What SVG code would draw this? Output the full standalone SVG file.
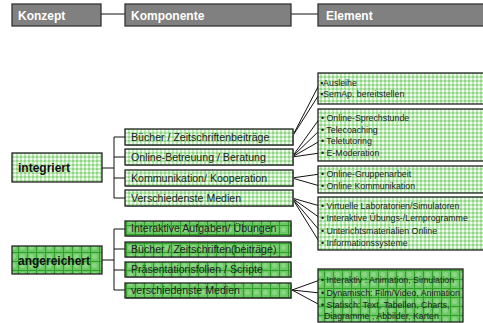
<svg xmlns="http://www.w3.org/2000/svg" width="483" height="323" viewBox="0 0 483 323">
<defs>
<pattern id="lg" width="4" height="4" patternUnits="userSpaceOnUse">
<rect width="4" height="4" fill="#f2fbf0"/>
<rect x="0" y="0" width="2" height="4" fill="#bfeab7"/>
<rect x="0" y="0" width="4" height="2" fill="#bfeab7"/>
<rect x="0" y="0" width="2" height="2" fill="#8fd684"/>
</pattern>
<pattern id="dg" width="9" height="9" patternUnits="userSpaceOnUse">
<rect width="9" height="9" fill="#6cc865"/>
<circle cx="4.5" cy="4.5" r="2.5" fill="#8ad684"/>
<rect x="0" y="0" width="1" height="9" fill="#2f9f2a"/>
<rect x="0" y="0" width="9" height="1" fill="#2f9f2a"/>
</pattern>
</defs>
<style>
.hdr{fill:#808080;stroke:#333;stroke-width:1.3}
.l{fill:url(#lg);stroke:#222;stroke-width:1.3}
.d{fill:url(#dg);stroke:#222;stroke-width:1.3}
.sh{fill:#aaa}
.ht{font-family:"Liberation Sans",Arial,sans-serif;font-size:12px;font-weight:bold;fill:#fff}
.ct{font-family:"Liberation Sans",Arial,sans-serif;font-size:12px;font-weight:bold;fill:#111}
.kt{font-family:"Liberation Sans",Arial,sans-serif;font-size:10.6px;fill:#222}
.et{font-family:"Liberation Sans",Arial,sans-serif;font-size:8.8px;fill:#222}
.c{stroke:#111;stroke-width:1;fill:none}
</style>
<g id="connectors">
<path class="c" d="M101 14H125M291 14H318"/>
<path class="c" d="M102 168H114M114 137V198M114 137H125M114 157H125M114 178H125M114 198H125"/>
<path class="c" d="M102 260H114" stroke-width="2"/>
<path class="c" d="M114 229V290M114 290H125"/>
<path class="c" d="M114 229H125M114 249H125M114 270H125" stroke="#777"/>
<path class="c" d="M292 137L320 83M292 137L320 93"/>
<path class="c" d="M292 157L320 118M292 157L320 130M292 157L320 141M292 157L320 153"/>
<path class="c" d="M292 178L320 174M292 178L320 186"/>
<path class="c" d="M292 198L320 206M292 198L320 218M292 198L320 231M292 198L320 243"/>
<path class="c" d="M292 290L320 280M292 290L320 293M292 290L320 305"/>
</g>
<g id="h-konzept"><rect class="hdr" x="12" y="4" width="89" height="22"/><text class="ht" x="18" y="20">Konzept</text></g>
<g id="h-komponente"><rect class="hdr" x="125" y="4" width="166" height="22"/><text class="ht" x="131" y="20">Komponente</text></g>
<g id="h-element"><rect class="hdr" x="318" y="4" width="170" height="22"/><text class="ht" x="326" y="20">Element</text></g>

<g id="integriert"><rect class="l" x="12" y="153" width="90" height="29"/><text class="ct" x="18" y="172">integriert</text></g>
<g id="angereichert"><rect class="d" x="12" y="246" width="90" height="28"/><text class="ct" x="18" y="265">angereichert</text></g>

<g id="k1"><rect class="sh" x="126" y="130" width="168" height="16"/><rect class="l" x="125" y="129" width="168" height="16"/><text class="kt" x="131" y="141">Bücher / Zeitschriftenbeiträge</text></g>
<g id="k2"><rect class="sh" x="126" y="150" width="168" height="16"/><rect class="l" x="125" y="149" width="168" height="16"/><text class="kt" x="131" y="161">Online-Betreuung / Beratung</text></g>
<g id="k3"><rect class="sh" x="126" y="171" width="168" height="16"/><rect class="l" x="125" y="170" width="168" height="16"/><text class="kt" x="131" y="182">Kommunikation/ Kooperation</text></g>
<g id="k4"><rect class="sh" x="126" y="191" width="168" height="16"/><rect class="l" x="125" y="190" width="168" height="16"/><text class="kt" x="131" y="202">Verschiedenste Medien</text></g>

<g id="k5"><rect class="sh" x="126" y="222" width="166" height="15"/><rect class="d" x="125" y="221" width="166" height="15"/><text class="kt" x="131" y="232">Interaktive Aufgaben/ Übungen</text></g>
<g id="k6"><rect class="sh" x="126" y="243" width="166" height="15"/><rect class="d" x="125" y="242" width="166" height="15"/><text class="kt" x="131" y="253">Bücher / Zeitschriften(beiträge)</text></g>
<g id="k7"><rect class="sh" x="126" y="263" width="166" height="15"/><rect class="d" x="125" y="262" width="166" height="15"/><text class="kt" x="131" y="273">Präsentationsfolien / Scripte</text></g>
<g id="k8"><rect class="sh" x="126" y="284" width="166" height="15"/><rect class="d" x="125" y="283" width="166" height="15"/><text class="kt" x="131" y="294">verschiedenste Medien</text></g>

<g id="e1"><rect class="l" x="318" y="73" width="170" height="31"/>
<text class="et" x="320" y="86">▪Ausleihe</text>
<text class="et" x="320" y="97">▪SemAp. bereitstellen</text></g>
<g id="e2"><rect class="l" x="318" y="109" width="170" height="52"/>
<text class="et" x="321" y="121">• Online-Sprechstunde</text>
<text class="et" x="321" y="133">• Telecoaching</text>
<text class="et" x="321" y="144">• Teletutoring</text>
<text class="et" x="321" y="156">• E-Moderation</text></g>
<g id="e3"><rect class="l" x="318" y="166" width="170" height="27"/>
<text class="et" x="321" y="177">• Online-Gruppenarbeit</text>
<text class="et" x="321" y="189">• Online Kommunikation</text></g>
<g id="e4"><rect class="l" x="318" y="197" width="170" height="53"/>
<text class="et" x="321" y="209">• Virtuelle Laboratorien/Simulatoren</text>
<text class="et" x="321" y="221">• Interaktive  Übungs-/Lernprogramme</text>
<text class="et" x="321" y="234">• Unterichtsmaterialien Online</text>
<text class="et" x="321" y="246">• Informationssysteme</text></g>
<g id="e5"><rect class="d" x="318" y="269" width="145" height="53"/>
<text class="et" x="321" y="283">• Interaktiv : Animation, Simulation</text>
<text class="et" x="321" y="296">• Dynamisch: Film/Video, Animation</text>
<text class="et" x="321" y="308">• Statisch: Text,  Tabellen, Charts,</text>
<text class="et" x="324" y="319">Diagramme , Abbilder, Karten</text></g>
</svg>
